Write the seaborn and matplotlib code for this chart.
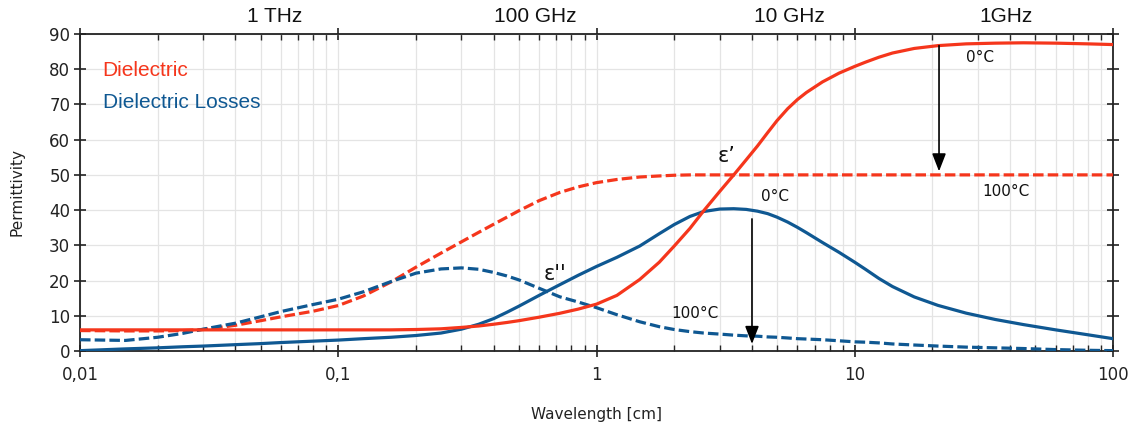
import numpy as np
import pandas as pd
import matplotlib
matplotlib.use("Agg")
import matplotlib.pyplot as plt
import matplotlib.ticker as mticker
import matplotlib.transforms as mtransforms
import seaborn as sns

# ---------------- data ----------------
wavelength = [0.01, 0.015, 0.02, 0.025, 0.03, 0.04, 0.05, 0.06, 0.08, 0.1, 0.125, 0.16,
              0.2, 0.25, 0.3, 0.35, 0.4, 0.45, 0.5, 0.6, 0.72, 0.85, 1.0, 1.2, 1.47, 1.75,
              2.0, 2.3, 2.6, 3.0, 3.4, 3.8, 4.2, 4.6, 5.0, 5.5, 6.0, 6.5, 7.5, 8.7,
              10, 11, 12.4, 14, 17, 21, 27, 35, 45, 60, 80, 100]

dielectric_0C = [6.0, 6.0, 6.0, 6.0, 6.0, 6.0, 6.0, 6.0, 6.0, 6.0, 6.0, 6.0,
                 6.1, 6.3, 6.7, 7.1, 7.6, 8.1, 8.6, 9.6, 10.7, 11.9, 13.3, 15.8, 20.3, 25.2,
                 29.8, 34.8, 39.8, 45.3, 50.0, 54.3, 58.2, 62.0, 65.4, 68.8, 71.4, 73.4, 76.4, 78.9,
                 80.8, 82.0, 83.4, 84.6, 85.9, 86.7, 87.2, 87.4, 87.5, 87.4, 87.2, 87.0]

dielectric_100C = [5.8, 5.7, 5.7, 5.8, 6.1, 7.3, 8.6, 9.7, 11.3, 12.9, 15.6, 19.6,
                   23.8, 27.8, 31.0, 33.7, 36.0, 38.0, 39.8, 42.7, 45.0, 46.6, 47.8, 48.7, 49.4, 49.7,
                   49.9, 50.0, 50.0, 50.0, 50.0, 50.0, 50.0, 50.0, 50.0, 50.0, 50.0, 50.0, 50.0, 50.0,
                   50.0, 50.0, 50.0, 50.0, 50.0, 50.0, 50.0, 50.0, 50.0, 50.0, 50.0, 50.0]

losses_0C = [0.1, 0.6, 0.9, 1.2, 1.4, 1.8, 2.1, 2.4, 2.8, 3.1, 3.5, 3.9,
             4.4, 5.1, 6.2, 7.6, 9.2, 11.0, 12.7, 15.8, 18.8, 21.5, 24.0, 26.6, 29.8, 33.3,
             35.9, 38.2, 39.6, 40.3, 40.4, 40.2, 39.7, 39.0, 38.0, 36.6, 35.1, 33.6, 30.8, 28.0,
             25.2, 23.2, 20.6, 18.3, 15.35, 12.95, 10.75, 8.95, 7.5, 6.0, 4.6, 3.5]

losses_100C = [3.2, 3.0, 3.9, 5.0, 6.2, 7.9, 9.7, 11.2, 13.2, 14.7, 16.8, 19.7,
               22.1, 23.3, 23.6, 23.2, 22.3, 21.3, 20.2, 17.8, 15.4, 13.9, 12.3, 10.3, 8.3, 6.9,
               6.1, 5.5, 5.1, 4.8, 4.5, 4.3, 4.2, 4.0, 3.9, 3.7, 3.5, 3.4, 3.2, 2.9,
               2.6, 2.5, 2.3, 2.0, 1.7, 1.4, 1.1, 0.9, 0.7, 0.4, 0.2, 0.1]

x_ticks = [0.01, 0.1, 1, 10, 100]
x_ticklabels = ["0,01", "0,1", "1", "10", "100"]
y_ticks = [0, 10, 20, 30, 40, 50, 60, 70, 80, 90]

freq_labels = ["1 THz", "100 GHz", "10 GHz", "1GHz"]
freq_label_pos = [0.0567, 0.58, 5.6, 38.6]

RED = "#F5361C"
BLUE = "#0F5892"

# ---------------- style ----------------
sns.set_theme(style="white")
plt.rcParams["font.family"] = ["DejaVu Sans"]

fig = plt.figure(figsize=(11.4, 4.26), dpi=100)
ax = fig.add_axes([80 / 1140, 1 - 351 / 426, (1113 - 80) / 1140, (351 - 34) / 426])

df = pd.DataFrame({
    "wavelength": wavelength,
    "d0": dielectric_0C,
    "d100": dielectric_100C,
    "l0": losses_0C,
    "l100": losses_100C,
})

ax.set_xscale("log")
dash = (0, (3.3, 1.3))
common = dict(ax=ax, lw=2.3, solid_joinstyle="round", dash_joinstyle="round")
sns.lineplot(data=df, x="wavelength", y="d100", color=RED, linestyle=dash, zorder=3, **common)
sns.lineplot(data=df, x="wavelength", y="l100", color=BLUE, linestyle=dash, zorder=3, **common)
sns.lineplot(data=df, x="wavelength", y="l0", color=BLUE, zorder=4, **common)
sns.lineplot(data=df, x="wavelength", y="d0", color=RED, zorder=4, **common)

ax.set_xlim(0.01, 100)
ax.set_ylim(0, 90)

# grid
ax.grid(True, which="major", axis="both", color="#e4e4e4", lw=0.9, zorder=0)
ax.grid(True, which="minor", axis="x", color="#e4e4e4", lw=0.9, zorder=0)
ax.set_axisbelow(True)

# ticks
ax.xaxis.set_major_locator(mticker.FixedLocator(x_ticks))
ax.xaxis.set_major_formatter(mticker.FixedFormatter(x_ticklabels))
ax.xaxis.set_minor_locator(mticker.LogLocator(base=10, subs=np.arange(2, 10)))
ax.xaxis.set_minor_formatter(mticker.NullFormatter())
ax.yaxis.set_major_locator(mticker.FixedLocator(y_ticks))

ax.tick_params(axis="x", which="major", direction="inout", length=9, width=1.2,
               top=True, bottom=True, labelsize=12, pad=6, colors="#222222")
ax.tick_params(axis="x", which="minor", direction="in", length=4, width=1.0,
               top=True, bottom=True)
ax.tick_params(axis="y", which="major", direction="inout", length=8, width=1.2,
               left=True, right=True, labelsize=12, pad=3, colors="#222222")

for s in ax.spines.values():
    s.set_visible(True)
    s.set_color("#222222")
    s.set_linewidth(1.3)

ax.set_xlabel("Wavelength [cm]", fontsize=11, labelpad=17, color="#222222")
ax.set_ylabel("Permittivity", fontsize=11, labelpad=18, color="#222222")

# frequency labels on top
trans = mtransforms.blended_transform_factory(ax.transData, ax.transAxes)
for lab, pos in zip(freq_labels, freq_label_pos):
    ax.text(pos, 1.055, lab, transform=trans, ha="center", va="center",
            fontsize=15, family=["Liberation Sans", "DejaVu Sans"], color="#111111")

# legend-like text
ax.text(0.022, 0.885, "Dielectric", transform=ax.transAxes, color=RED,
        fontsize=15, family=["Liberation Sans", "DejaVu Sans"], va="center", ha="left")
ax.text(0.022, 0.785, "Dielectric Losses", transform=ax.transAxes, color=BLUE,
        fontsize=15, family=["Liberation Sans", "DejaVu Sans"], va="center", ha="left")

# arrows
arrow_kw = dict(arrowstyle="-|>,head_length=0.9,head_width=0.35", color="black", lw=1.2,
                shrinkA=0, shrinkB=0)
ax.annotate("", xy=(21.2, 51.0), xytext=(21.2, 86.7), arrowprops=arrow_kw, zorder=6)
ax.annotate("", xy=(4.0, 2.0), xytext=(4.0, 37.5), arrowprops=arrow_kw, zorder=6)

# annotations
ax.text(30.5, 83.3, "0°C", fontsize=11, ha="center", va="center", color="#111111")
ax.text(38.5, 45.2, "100°C", fontsize=11, ha="center", va="center", color="#111111")
ax.text(4.9, 43.8, "0°C", fontsize=11, ha="center", va="center", color="#111111")
ax.text(2.4, 10.6, "100°C", fontsize=11, ha="center", va="center", color="#111111")
ax.text(3.2, 55.3, "ε’", fontsize=15, ha="center", va="center", color="#111111")
ax.text(0.69, 21.8, "ε''", fontsize=15, ha="center", va="center", color="#111111")

fig.savefig("out.png", dpi=100, facecolor="white")
